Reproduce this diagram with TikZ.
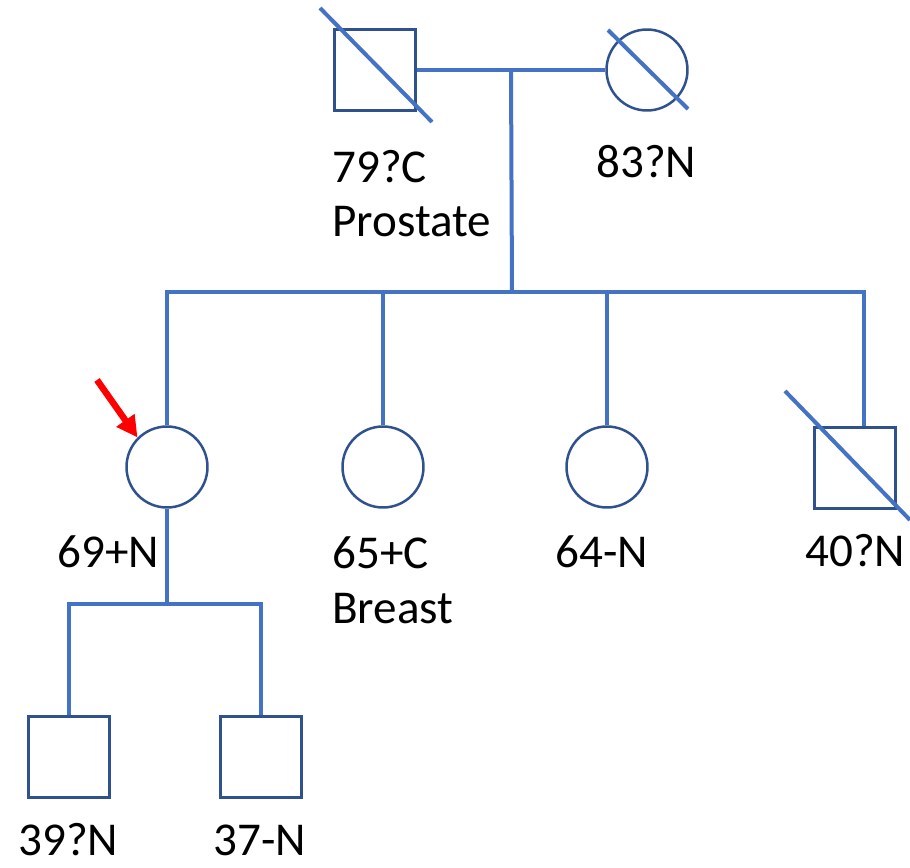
\documentclass[tikz,border=0pt]{standalone}
\usepackage{fontspec}
\setmainfont{Carlito}
\usepackage{tikz}
\usetikzlibrary{arrows.meta,calc,positioning}
\definecolor{linkblue}{RGB}{68,114,196}
\definecolor{shapeblue}{RGB}{47,82,143}
\tikzset{
  male/.style   ={draw=shapeblue, line width=0.05cm, fill=white,
                  rectangle, minimum size=1.62cm, inner sep=0pt},
  female/.style ={draw=shapeblue, line width=0.05cm, fill=white,
                  circle, minimum size=1.62cm, inner sep=0pt},
  lbl/.style    ={anchor=base west, inner sep=0pt, align=left,
                  font=\fontsize{26.8}{31.2}\selectfont},
  conn/.style   ={draw=linkblue, line width=0.08cm},
  dead/.style   ={draw=linkblue, line width=0.08cm},
  proarr/.style ={-{Triangle[length=0.42cm, width=0.42cm]},
                  draw=red, fill=red, line width=0.13cm},
}
\begin{document}
\begin{tikzpicture}[x=0.02cm, y=-0.02cm]
  \useasboundingbox (0,0) rectangle (910,868);
  %% parents
  \node[male]   (fa) at (375,70) {};
  \node[female] (mo) at (647,70) {};
  \draw[conn] (fa) -- (mo);
  \coordinate (cp) at ($(fa.east)!0.5!(mo.west)$);
  \coordinate (sb) at (512,292);
  \draw[conn] (cp) -- (sb);
  \draw[dead] ($(fa.center)+(-55,-62)$) -- ($(fa.center)+(57,52)$);
  \draw[dead] ($(mo.center)+(-39,-40)$) -- ($(mo.center)+(41,39)$);
  \node[lbl] (lfa) at (332,237) {79?C\\Prostate};
  \node[lbl] (lmo) at (596,178) {83?N};
  %% siblings
  \node[female] (pb) at (167,467) {};
  \node[female] (s2) at (383,467) {};
  \node[female] (s3) at (607,467) {};
  \node[male]   (b4) at (855,468) {};
  \coordinate (b4t) at ($(b4.north)+(9,0)$);
  \draw[conn] (pb.north) |- (sb) -| (b4t);
  \draw[conn] (s2.north) -- (s2.north |- sb);
  \draw[conn] (s3.north) -- (s3.north |- sb);
  \draw[dead] ($(b4.center)+(-70,-77)$) -- ($(b4.center)+(55,52)$);
  \node[lbl] (lpb) at (57,567) {69+N};
  \node[lbl] (ls2) at (332,623) {65+C\\Breast};
  \node[lbl] (ls3) at (555,567) {64-N};
  \node[lbl] (lb4) at (805,566) {40?N};
  %% proband arrow
  \coordinate (ar) at (97,380);
  \draw[proarr] (ar) -- (pb.north west);
  %% children
  \node[male] (k1) at (69,757) {};
  \node[male] (k2) at (261,757) {};
  \coordinate (kb) at (167,604);
  \draw[conn] (pb.south) -- (kb);
  \draw[conn] (k1.north) |- (kb) -| (k2.north);
  \node[lbl] (lk1) at (18,855) {39?N};
  \node[lbl] (lk2) at (213,855) {37-N};
\end{tikzpicture}
\end{document}
